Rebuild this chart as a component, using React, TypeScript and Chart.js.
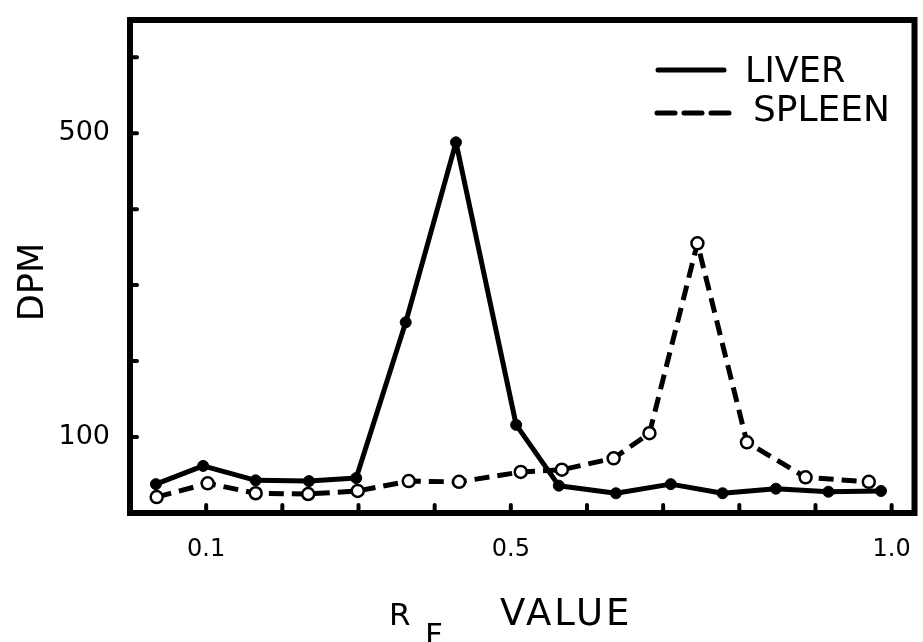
import React, { useEffect, useRef } from "react";
import { Chart, registerables } from "chart.js";

Chart.register(...registerables);

// Data (Rf value, DPM)
const liverRf = [0.034, 0.096, 0.165, 0.235, 0.297, 0.362, 0.428, 0.507, 0.563, 0.638, 0.71, 0.778, 0.848, 0.917, 0.986];
const liverDpm = [38, 62, 43, 42, 46, 251, 488, 116, 36, 26, 38, 26, 32, 28, 29];
const spleenRf = [0.035, 0.102, 0.165, 0.234, 0.299, 0.366, 0.432, 0.513, 0.567, 0.635, 0.682, 0.745, 0.81, 0.887, 0.97];
const spleenDpm = [21, 39, 26, 25, 29, 42, 41, 54, 57, 72, 105, 355, 93, 47, 41];

const xTickValues = [0.1, 0.2, 0.3, 0.4, 0.5, 0.6, 0.7, 0.8, 0.9, 1.0];
const xTickLabels = ["0.1", "", "", "", "0.5", "", "", "", "", "1.0"];
const yTickValues = [100, 200, 300, 400, 500, 600];
const yTickLabels = ["100", "", "", "", "500", ""];

const seriesNames = ["LIVER", "SPLEEN"];
const xTitleMain = "R";
const xTitleSub = "F";
const xTitleRest = "VALUE";
const yTitle = "DPM";

const FONT = "'DejaVu Sans', sans-serif";

const decorPlugin = {
  id: "decor",
  afterDraw(chart: any) {
    const { ctx, chartArea } = chart;
    const xs = chart.scales.x;
    const ys = chart.scales.y;
    ctx.save();
    ctx.strokeStyle = "#000";
    ctx.fillStyle = "#000";
    // frame
    ctx.lineWidth = 6;
    ctx.strokeRect(chartArea.left, chartArea.top, chartArea.right - chartArea.left, chartArea.bottom - chartArea.top);
    // y ticks (inward)
    ctx.lineWidth = 4;
    ctx.lineCap = "round";
    yTickValues.forEach((v) => {
      const y = ys.getPixelForValue(v);
      ctx.beginPath();
      ctx.moveTo(chartArea.left, y);
      ctx.lineTo(chartArea.left + 7, y);
      ctx.stroke();
    });
    // x ticks (inward)
    xTickValues.forEach((v) => {
      const x = xs.getPixelForValue(v);
      ctx.beginPath();
      ctx.moveTo(x, chartArea.bottom);
      ctx.lineTo(x, chartArea.bottom - 8);
      ctx.stroke();
    });
    // legend
    ctx.lineWidth = 5;
    ctx.beginPath();
    ctx.moveTo(658, 70);
    ctx.lineTo(724, 70);
    ctx.stroke();
    ctx.setLineDash([18, 9]);
    ctx.beginPath();
    ctx.moveTo(657, 113);
    ctx.lineTo(737, 113);
    ctx.stroke();
    ctx.setLineDash([]);
    ctx.textBaseline = "alphabetic";
    ctx.textAlign = "left";
    ctx.font = `35px ${FONT}`;
    ctx.fillText(seriesNames[0], 745, 82);
    ctx.font = `36px ${FONT}`;
    ctx.fillText(seriesNames[1], 753, 121);
    // y title
    ctx.save();
    ctx.translate(43, 282);
    ctx.rotate(-Math.PI / 2);
    ctx.textAlign = "center";
    ctx.font = `35px ${FONT}`;
    ctx.fillText(yTitle, 0, 0);
    ctx.restore();
    // x title
    ctx.textAlign = "left";
    ctx.font = `31px ${FONT}`;
    ctx.fillText(xTitleMain, 389, 625);
    ctx.fillText(xTitleSub, 425, 645);
    ctx.font = `37px ${FONT}`;
    (ctx as any).letterSpacing = "3px";
    ctx.fillText(xTitleRest, 500, 625);
    (ctx as any).letterSpacing = "0px";
    ctx.restore();
  },
};

const zeroPad = (axis: any) => {
  axis.paddingLeft = 0;
  axis.paddingRight = 0;
  axis.paddingTop = 0;
  axis.paddingBottom = 0;
};

export default function App() {
  const ref = useRef<HTMLCanvasElement | null>(null);
  useEffect(() => {
    document.body.style.margin = "0";
    const canvas = ref.current;
    if (!canvas) return;
    const chart = new Chart(canvas, {
      type: "line",
      data: {
        datasets: [
          {
            label: seriesNames[0],
            data: liverRf.map((x, i) => ({ x, y: liverDpm[i] })),
            borderColor: "#000",
            borderWidth: 5,
            borderJoinStyle: "round",
            borderCapStyle: "round",
            pointRadius: 5.5,
            pointBackgroundColor: "#000",
            pointBorderColor: "#000",
            pointBorderWidth: 1,
            tension: 0,
          },
          {
            label: seriesNames[1],
            data: spleenRf.map((x, i) => ({ x, y: spleenDpm[i] })),
            borderColor: "#000",
            borderWidth: 5,
            borderDash: [15, 8],
            borderJoinStyle: "round",
            pointRadius: 6,
            pointBackgroundColor: "#fff",
            pointBorderColor: "#000",
            pointBorderWidth: 2.5,
            tension: 0,
          },
        ],
      },
      options: {
        animation: false,
        responsive: false,
        maintainAspectRatio: false,
        layout: { padding: { top: 20, right: 5, left: 0, bottom: 0 } },
        plugins: { legend: { display: false }, tooltip: { enabled: false } },
        scales: {
          x: {
            type: "linear",
            min: 0,
            max: 1.03,
            grid: { display: false, drawTicks: false },
            border: { display: false },
            afterBuildTicks: (axis: any) => {
              axis.ticks = xTickValues.map((v) => ({ value: v }));
            },
            afterFit: (axis: any) => {
              axis.height = 129;
              zeroPad(axis);
            },
            ticks: {
              padding: 22,
              color: "#000",
              font: { family: FONT, size: 24 },
              maxRotation: 0,
              autoSkip: false,
              callback: (v: any) => {
                const i = xTickValues.findIndex((t) => Math.abs(t - v) < 1e-6);
                return i >= 0 ? xTickLabels[i] : "";
              },
            },
          },
          y: {
            type: "linear",
            min: 0,
            max: 649,
            grid: { display: false, drawTicks: false },
            border: { display: false },
            afterBuildTicks: (axis: any) => {
              axis.ticks = yTickValues.map((v) => ({ value: v }));
            },
            afterFit: (axis: any) => {
              axis.width = 130;
              zeroPad(axis);
            },
            ticks: {
              padding: 20,
              color: "#000",
              font: { family: FONT, size: 27 },
              autoSkip: false,
              callback: (v: any) => {
                const i = yTickValues.indexOf(v);
                return i >= 0 ? yTickLabels[i] : "";
              },
            },
          },
        },
      },
      plugins: [decorPlugin],
    });
    return () => chart.destroy();
  }, []);
  return (
    <div style={{ width: 923, height: 642, background: "#fff" }}>
      <canvas ref={ref} width={923} height={642} style={{ display: "block", width: 923, height: 642 }} />
    </div>
  );
}
